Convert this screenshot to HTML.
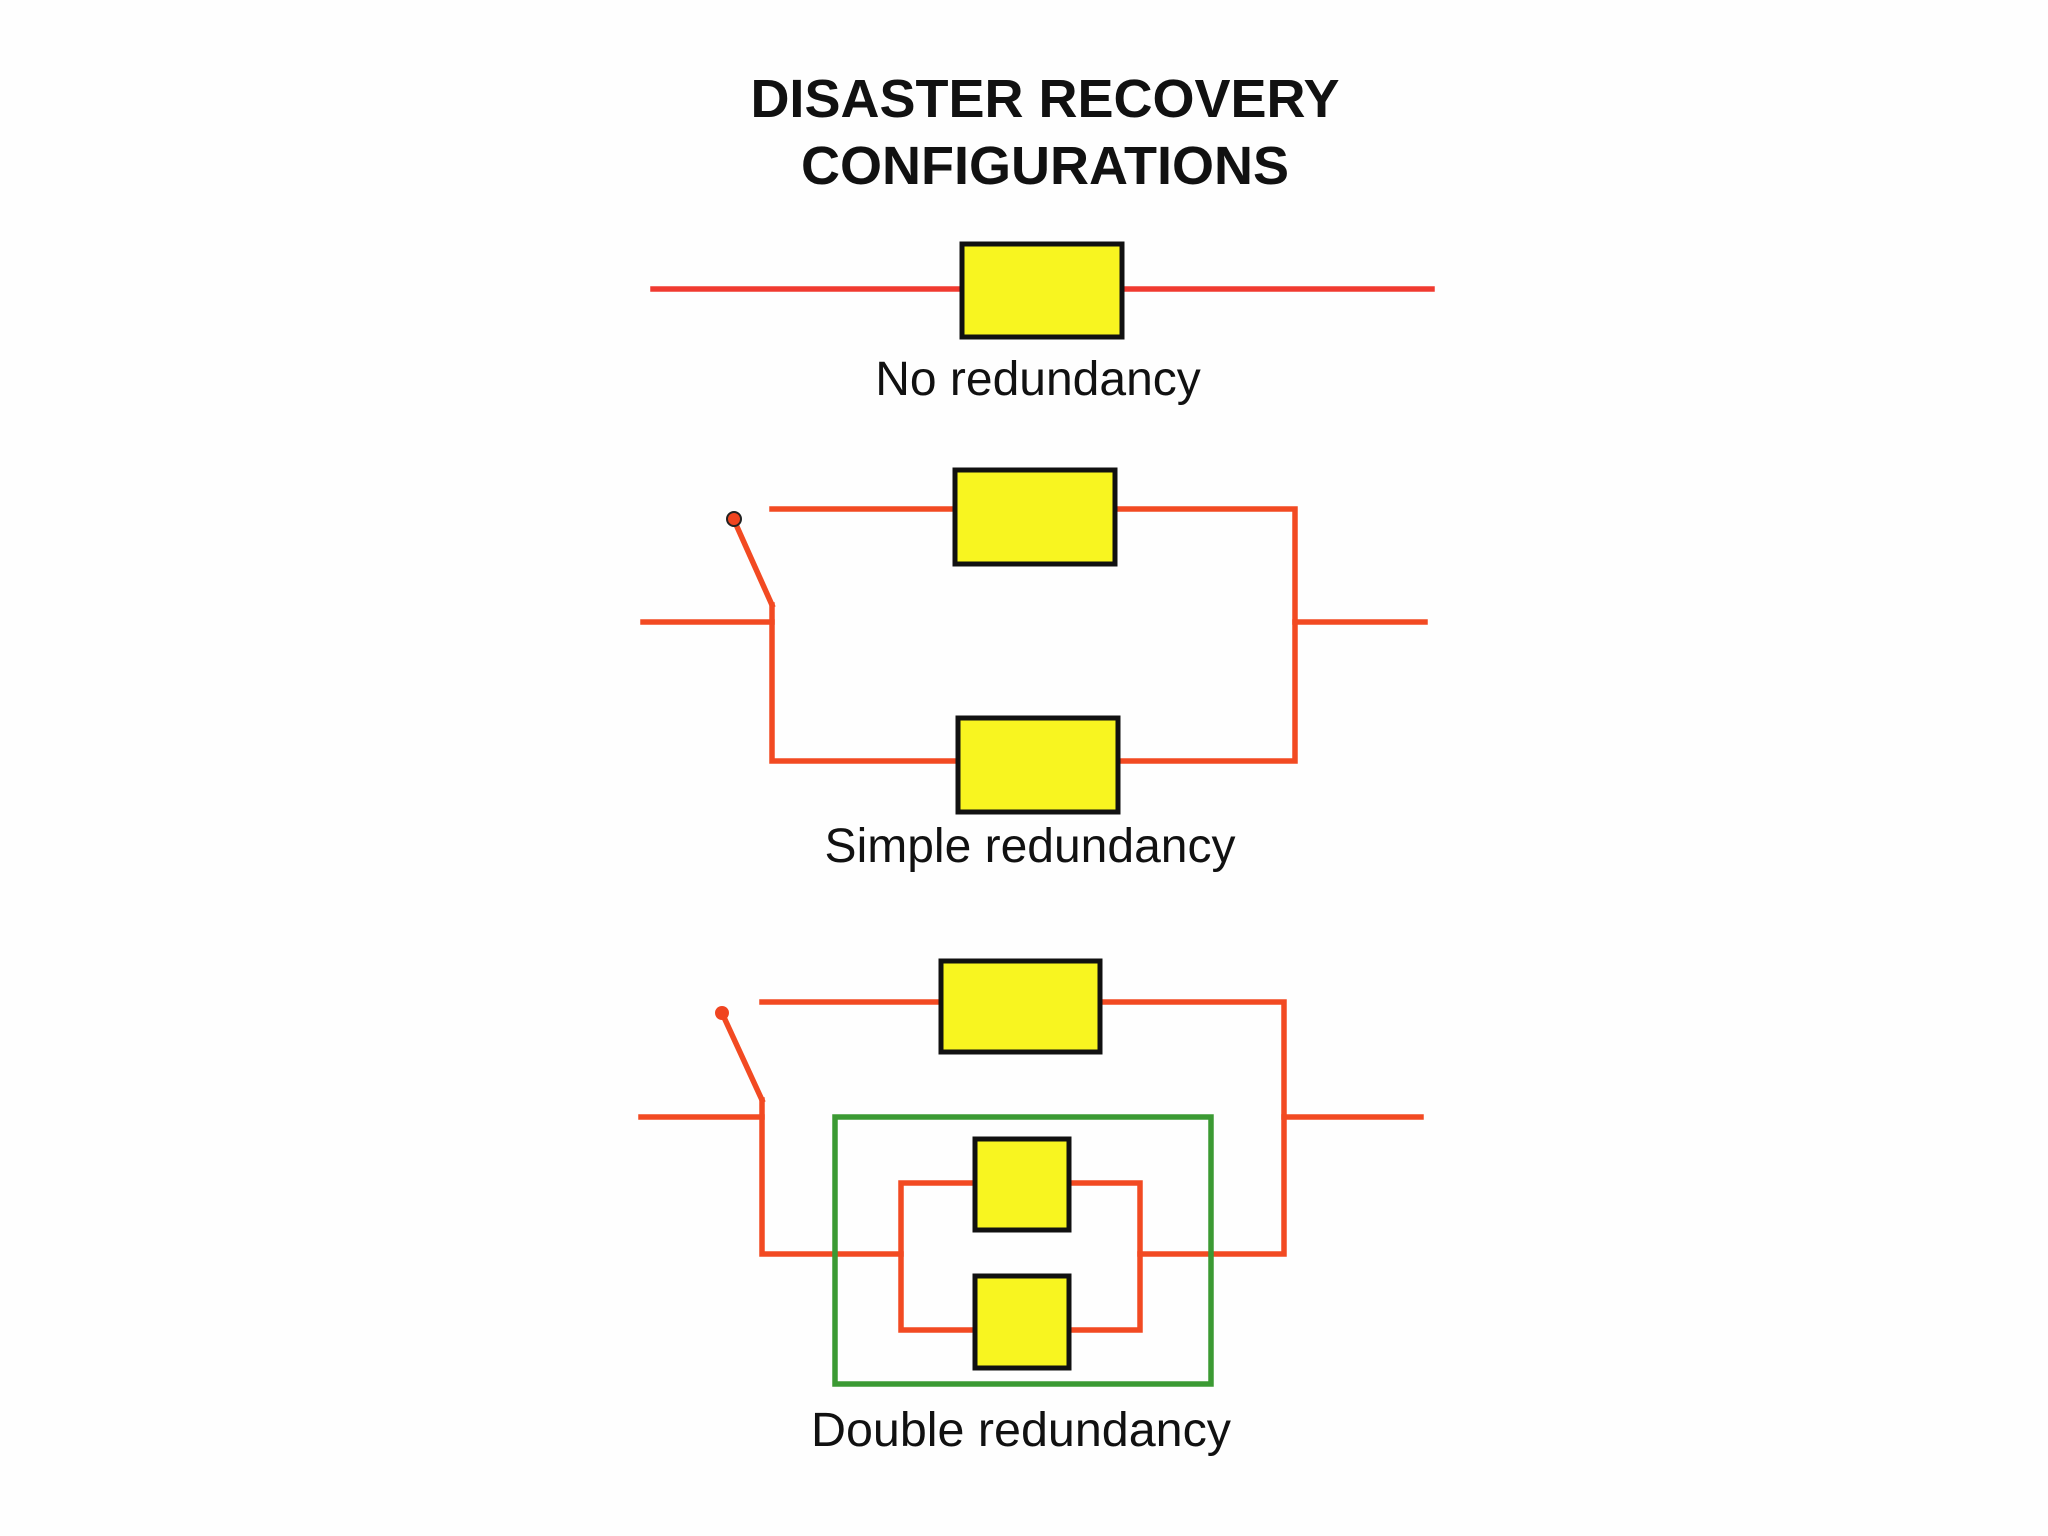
<!DOCTYPE html>
<html><head><meta charset="utf-8"><style>
html,body{margin:0;padding:0;background:#fefefe;}
svg{display:block}
</style></head><body>
<svg width="2048" height="1536" viewBox="0 0 2048 1536" xmlns="http://www.w3.org/2000/svg">
<rect width="2048" height="1536" fill="#fefefe"/>
<g font-family="Liberation Sans, sans-serif" text-anchor="middle" fill="#111">
<text x="1045" y="117" font-size="54" font-weight="bold">DISASTER RECOVERY</text>
<text x="1045" y="184" font-size="54" font-weight="bold">CONFIGURATIONS</text>
<text x="1038" y="395" font-size="48">No redundancy</text>
<text x="1030" y="862" font-size="48">Simple redundancy</text>
<text x="1021" y="1446" font-size="48" textLength="420" lengthAdjust="spacingAndGlyphs">Double redundancy</text>
</g>
<g fill="none" stroke-width="5.5" stroke-linecap="square">
<line x1="653" y1="289" x2="1432" y2="289" stroke="#f03a30"/>
<g stroke="#f24a22">
<polyline points="772,509 1295,509 1295,761 772,761 772,605"/>
<line x1="643" y1="622" x2="772" y2="622"/>
<line x1="1295" y1="622" x2="1425" y2="622"/>
<line x1="734" y1="520" x2="772" y2="605"/>
</g>
<g stroke="#f24a22">
<polyline points="762,1002 1284,1002 1284,1254 1140,1254"/>
<polyline points="901,1254 762,1254 762,1100"/>
<line x1="641" y1="1117" x2="762" y2="1117"/>
<line x1="1284" y1="1117" x2="1421" y2="1117"/>
<line x1="722" y1="1013" x2="762" y2="1100"/>
<rect x="901" y="1183" width="239" height="147"/>
</g>
<rect x="835" y="1117" width="376" height="267" stroke="#3b9a33"/>
</g>
<circle cx="734" cy="519" r="7" fill="#f04420" stroke="#222" stroke-width="2"/>
<circle cx="722" cy="1013" r="7" fill="#f04420"/>
<g fill="#f8f520" stroke="#111" stroke-width="5">
<rect x="962" y="244" width="160" height="93"/>
<rect x="955" y="470" width="160" height="94"/>
<rect x="958" y="718" width="160" height="94"/>
<rect x="941" y="961" width="159" height="91"/>
<rect x="975" y="1139" width="94" height="91"/>
<rect x="975" y="1276" width="94" height="92"/>
</g>
</svg>
</body></html>
